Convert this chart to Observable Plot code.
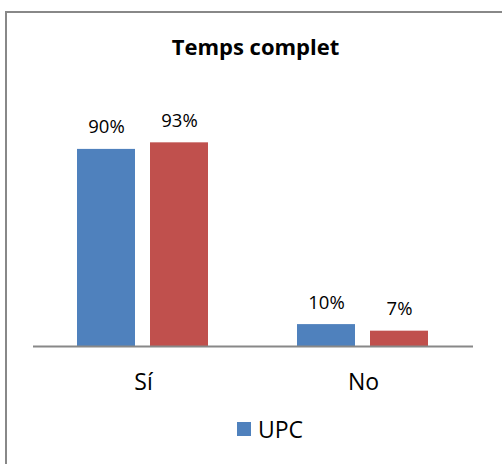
<!DOCTYPE html>
<html>
<head>
<meta charset="utf-8">
<script src="https://cdn.jsdelivr.net/npm/d3@7"></script>
<script src="https://cdn.jsdelivr.net/npm/@observablehq/plot@0.6"></script>
<style>
  html, body { margin: 0; padding: 0; background: #fff; }
  #wrap { position: relative; width: 502px; height: 464px; overflow: hidden; font-family: "Open Sans", sans-serif; }
  #frame { position: absolute; left: 5px; top: 11px; width: 600px; height: 600px; border-left: 2px solid #888; border-top: 2px solid #888; pointer-events: none; }
  #title { position: absolute; left: 0; width: 511px; top: 31px; line-height: 30px; text-align: center; font-weight: bold; font-size: 22px; color: #000; }
  #chart { position: absolute; left: 0; top: 0; }
  #legend { position: absolute; left: 237px; top: 414px; display: flex; align-items: center; font-size: 23px; line-height: 30px; color: #000; }
  #legend .sw { width: 14px; height: 14px; margin-right: 7px; }
</style>
</head>
<body>
<div id="wrap">
  <div id="chart"></div>
  <div id="title">Temps complet</div>
  <div id="legend"></div>
  <div id="frame"></div>
</div>
<script>
const categories = ["Sí", "No"];
const seriesNames = ["UPC", "Total"];
const upcValues = [90, 10];
const otherValues = [93, 7];
const seriesColors = ["#4F81BD", "#C0504D"];
const legendSeries = ["UPC"];

const data = categories.flatMap((c, i) => [
  {category: c, series: seriesNames[0], value: upcValues[i]},
  {category: c, series: seriesNames[1], value: otherValues[i]}
]);

const plot = Plot.plot({
  width: 502,
  height: 464,
  marginLeft: 33,
  marginRight: 29,
  marginTop: 127,
  marginBottom: 118,
  style: {background: "transparent", fontFamily: "Open Sans, sans-serif", overflow: "visible"},
  fx: {domain: categories, padding: 0, axis: null},
  x: {domain: seriesNames, paddingInner: 0.2, paddingOuter: 0.6, axis: null},
  y: {domain: [0, 100], axis: null},
  color: {domain: seriesNames, range: seriesColors},
  marks: [
    Plot.barY(data, {fx: "category", x: "series", y: "value", fill: "series"}),
    Plot.ruleY([0], {stroke: "#888", strokeWidth: 2}),
    Plot.text(data, {fx: "category", x: "series", y: "value", text: d => d.value + "%", dy: -16, lineAnchor: "bottom", fontSize: 18.5, fill: "#000"}),
    Plot.axisFx({anchor: "bottom", tickSize: 0, tickPadding: 27, fontSize: 23, fill: "#000", label: null})
  ]
});
document.getElementById("chart").appendChild(plot);

const legend = document.getElementById("legend");
legendSeries.forEach(name => {
  const idx = seriesNames.indexOf(name);
  const sw = document.createElement("span");
  sw.className = "sw";
  sw.style.background = seriesColors[idx];
  const lab = document.createElement("span");
  lab.textContent = name;
  legend.appendChild(sw);
  legend.appendChild(lab);
});
</script>
</body>
</html>
